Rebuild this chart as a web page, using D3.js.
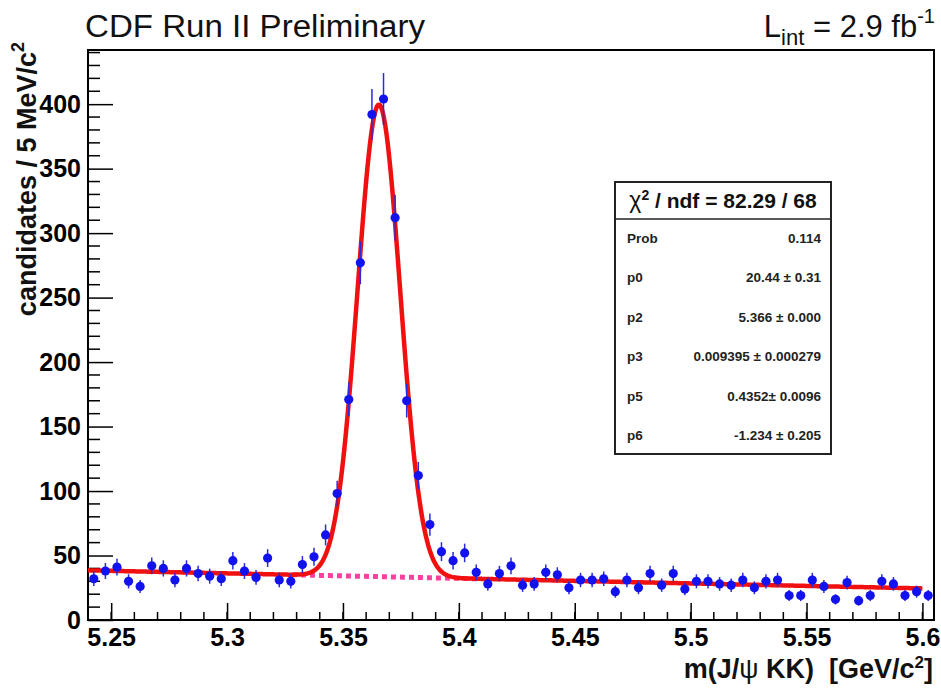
<!DOCTYPE html>
<html>
<head>
<meta charset="utf-8">
<script src="https://cdn.jsdelivr.net/npm/d3@7/dist/d3.min.js"></script>
<style>
  html, body { margin: 0; padding: 0; background: #fff; }
  svg { display: block; font-family: "Liberation Sans", Arial, Helvetica, sans-serif; }
</style>
</head>
<body>
<svg id="chart" width="941" height="689"></svg>
<script>
// ---------------- data ----------------
const massLow = 5.24;          // histogram lower edge (GeV/c^2)
const massHigh = 5.605;        // histogram upper edge
const binWidth = 0.005;        // 5 MeV bins
const counts = [
  32, 38, 41, 30, 26, 42, 40, 31, 40, 36,
  34, 32, 46, 38, 33, 48, 31, 30, 43, 49,
  66, 98, 171, 277, 392, 404, 312, 170, 112, 74,
  53, 46, 52, 37, 28, 36, 42, 27, 28, 37,
  35, 25, 31, 31, 32, 22, 31, 25, 36, 27,
  36, 24, 30, 30, 28, 27, 31, 25, 30, 31,
  19, 19, 31, 26, 16, 29, 15, 19, 30, 28,
  19, 22, 19
];
const xTicks = [5.25, 5.3, 5.35, 5.4, 5.45, 5.5, 5.55, 5.6];
const xTickLabels = ["5.25", "5.3", "5.35", "5.4", "5.45", "5.5", "5.55", "5.6"];
const yTicks = [0, 50, 100, 150, 200, 250, 300, 350, 400];
const yMax = 442;
// fit model (gaussian signal + linear background)
const fitMean = 5.3655;
const fitSigma = 0.0092;
const fitAmp = 366;
const bgAtLow = 38.5;
const bgSlope = -38.9;       // events per GeV
const fitRange = [5.24, 5.6];
const bgDrawRange = [5.328, 5.41];
const statLabels = ["Prob", "p0", "p2", "p3", "p5", "p6"];
const statValues = ["0.114", "20.44 \u00b1 0.31", "5.366 \u00b1 0.000", "0.009395 \u00b1 0.000279", "0.4352\u00b1 0.0096", "-1.234 \u00b1 0.205"];

// ---------------- layout ----------------
const svg = d3.select("#chart");
const L = 88, R = 934, T = 50, B = 620;
const x = d3.scaleLinear().domain([massLow, massHigh]).range([L, R]);
const y = d3.scaleLinear().domain([0, yMax]).range([B, T]);

svg.append("rect").attr("width", 941).attr("height", 689).attr("fill", "#fff");

// frame
svg.append("rect").attr("x", L).attr("y", T).attr("width", R - L).attr("height", B - T)
  .attr("fill", "none").attr("stroke", "#000").attr("stroke-width", 2);

// x axis ticks (inside, pointing up)
const xMinor = d3.range(0, 37).map(i => 5.24 + i * 0.01).filter(v => v > 5.2401 && v < 5.605);
svg.append("g").selectAll("line").data(xMinor).join("line")
  .attr("x1", d => x(d)).attr("x2", d => x(d))
  .attr("y1", B).attr("y2", B - 8).attr("stroke", "#000").attr("stroke-width", 1.5);
const xAxis = d3.axisBottom(x).tickValues(xTicks).tickSize(-17).tickPadding(8)
  .tickFormat((d, i) => xTickLabels[i]);
const gx = svg.append("g").attr("transform", `translate(0,${B})`).call(xAxis);
gx.select(".domain").remove();
gx.selectAll(".tick line").attr("stroke", "#000").attr("stroke-width", 1.5);
gx.selectAll(".tick text").attr("font-size", 25).attr("font-weight", "bold").attr("fill", "#000")
  .attr("font-family", "'Liberation Sans', Arial, sans-serif");

// y axis ticks (inside, pointing right)
const yMinor = d3.range(0, 45).map(i => i * 10).filter(v => v % 50 !== 0 && v <= yMax);
svg.append("g").selectAll("line").data(yMinor).join("line")
  .attr("x1", L).attr("x2", L + 12)
  .attr("y1", d => y(d)).attr("y2", d => y(d)).attr("stroke", "#000").attr("stroke-width", 1.5);
const yAxis = d3.axisLeft(y).tickValues(yTicks).tickSize(-25).tickPadding(7).tickFormat(d3.format("d"));
const gy = svg.append("g").attr("transform", `translate(${L},0)`).call(yAxis);
gy.select(".domain").remove();
gy.selectAll(".tick line").attr("stroke", "#000").attr("stroke-width", 1.5);
gy.selectAll(".tick text").attr("font-size", 25).attr("font-weight", "bold").attr("fill", "#000")
  .attr("font-family", "'Liberation Sans', Arial, sans-serif");

// ---------------- model ----------------
const bg = m => bgAtLow + bgSlope * (m - massLow);
const fitFn = m => fitAmp * Math.exp(-0.5 * Math.pow((m - fitMean) / fitSigma, 2)) + bg(m);

// background dashed (magenta)
const bgSamples = d3.range(0, 101).map(i => bgDrawRange[0] + (bgDrawRange[1] - bgDrawRange[0]) * i / 100);
svg.append("path").datum(bgSamples)
  .attr("d", d3.line().x(d => x(d)).y(d => y(bg(d))))
  .attr("fill", "none").attr("stroke", "#ff3fa0").attr("stroke-width", 5)
  .attr("stroke-dasharray", "5,4");

// fit curve
const fitSamples = d3.range(0, 801).map(i => fitRange[0] + (fitRange[1] - fitRange[0]) * i / 800);
svg.append("path").datum(fitSamples)
  .attr("d", d3.line().x(d => x(d)).y(d => y(fitFn(d))))
  .attr("fill", "none").attr("stroke", "#f01010").attr("stroke-width", 4.5)
  .attr("stroke-linejoin", "round");

// data points with error bars
const points = counts.map((c, i) => ({ m: massLow + binWidth * (i + 0.5), n: c }));
const gp = svg.append("g");
gp.selectAll("line.err").data(points).join("line").attr("class", "err")
  .attr("x1", d => x(d.m)).attr("x2", d => x(d.m))
  .attr("y1", d => y(d.n + Math.sqrt(d.n))).attr("y2", d => y(d.n - Math.sqrt(d.n)))
  .attr("stroke", "#2a2ae0").attr("stroke-width", 1.5);
gp.selectAll("circle").data(points).join("circle")
  .attr("cx", d => x(d.m)).attr("cy", d => y(d.n)).attr("r", 4.6)
  .attr("fill", "#1212ee");

// ---------------- texts ----------------
svg.append("text").attr("x", 85).attr("y", 37).attr("font-size", 31).attr("fill", "#111")
  .attr("textLength", 340).attr("lengthAdjust", "spacingAndGlyphs")
  .text("CDF Run II Preliminary");

const lt = svg.append("text").attr("x", 935).attr("y", 37).attr("font-size", 31)
  .attr("fill", "#111").attr("text-anchor", "end");
lt.append("tspan").text("L");
lt.append("tspan").attr("font-size", 22).attr("dy", 8).text("int");
lt.append("tspan").attr("dy", -8).text(" = 2.9 fb");
lt.append("tspan").attr("font-size", 20).attr("dy", -14).text("-1");

const xt = svg.append("text").attr("x", 933).attr("y", 678).attr("font-size", 27)
  .attr("font-weight", "bold").attr("text-anchor", "end").attr("fill", "#111");
xt.append("tspan").text("m(J/");
xt.append("tspan").attr("font-weight", "normal").text("\u03c8");
xt.append("tspan").text(" KK)\u00a0\u00a0[GeV/c");
xt.append("tspan").attr("font-size", 17).attr("dy", -10).text("2");
xt.append("tspan").attr("dy", 10).text("]");

const yt = svg.append("text").attr("transform", "translate(36,42) rotate(-90)")
  .attr("font-size", 27).attr("font-weight", "bold").attr("text-anchor", "end").attr("fill", "#111");
yt.append("tspan").text("candidates / 5 MeV/c");
yt.append("tspan").attr("font-size", 18).attr("dy", -12).text("2");

// ---------------- stats box ----------------
const sx0 = 615, sx1 = 831, sy0 = 182, sy1 = 454, sHead = 219;
svg.append("rect").attr("x", sx0).attr("y", sy0).attr("width", sx1 - sx0).attr("height", sy1 - sy0)
  .attr("fill", "#fff").attr("stroke", "#222").attr("stroke-width", 2);
svg.append("line").attr("x1", sx0).attr("x2", sx1).attr("y1", sHead).attr("y2", sHead)
  .attr("stroke", "#222").attr("stroke-width", 1.5);
const ht = svg.append("text").attr("x", (sx0 + sx1) / 2).attr("y", 208).attr("text-anchor", "middle")
  .attr("font-size", 21).attr("font-weight", "bold").attr("fill", "#111");
ht.append("tspan").attr("font-weight", "normal").attr("font-size", 23).text("\u03c7");
ht.append("tspan").attr("font-size", 14).attr("dy", -8).text("2");
ht.append("tspan").attr("dy", 8).text(" / ndf = 82.29 / 68");

const rowY = d3.scaleLinear().domain([0, statLabels.length - 1]).range([243, 440]);
svg.append("g").selectAll("text").data(statLabels).join("text")
  .attr("x", 627).attr("y", (d, i) => rowY(i)).attr("font-size", 13.5).attr("font-weight", "bold")
  .attr("fill", "#222").text(d => d);
svg.append("g").selectAll("text").data(statValues).join("text")
  .attr("x", 821).attr("y", (d, i) => rowY(i)).attr("font-size", 13.5).attr("font-weight", "bold")
  .attr("text-anchor", "end").attr("fill", "#222").text(d => d);
</script>
</body>
</html>
